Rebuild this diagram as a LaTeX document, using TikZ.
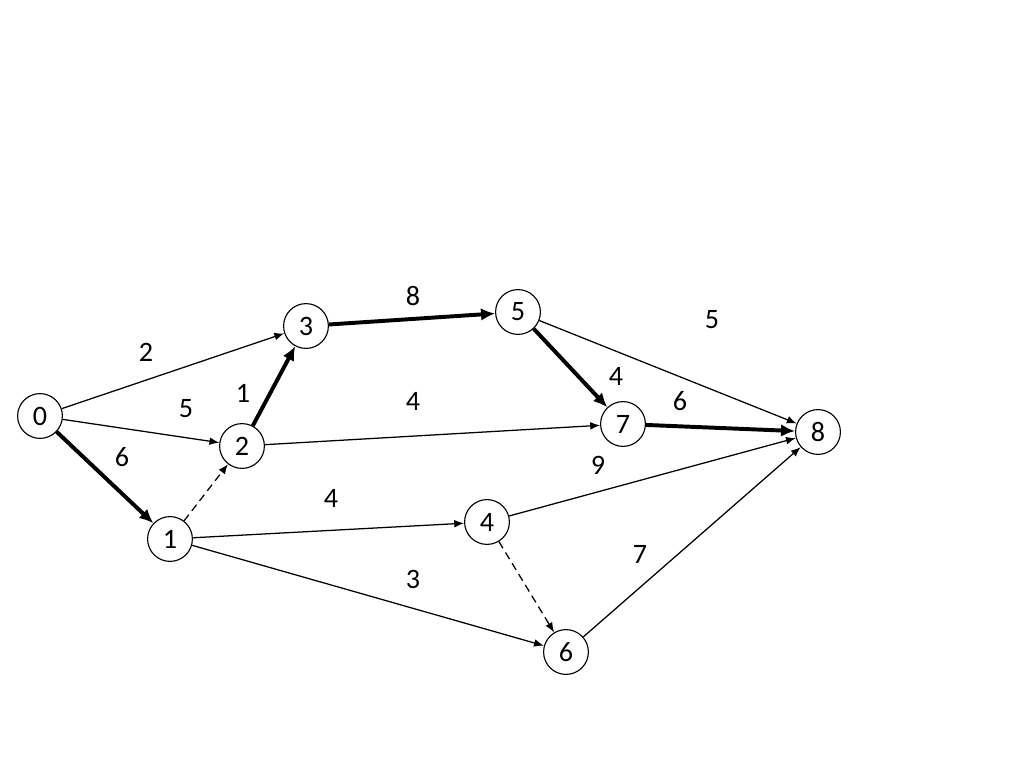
\documentclass[tikz,border=0pt]{standalone}
\usepackage{fontspec}
\setmainfont{Carlito}
\usetikzlibrary{arrows.meta,positioning}
\tikzset{
  event/.style={circle,draw,line width=0.8pt,minimum size=1.12cm,inner sep=0pt,font=\fontsize{20}{24}\selectfont},
  wt/.style={font=\fontsize{20}{24}\selectfont},
  job/.style={-{Latex[length=7pt,width=5.5pt]},line width=0.9pt},
  crit/.style={-{Latex[length=10pt,width=9pt]},line width=2.8pt},
  dummy/.style={-{Latex[length=7pt,width=5.5pt]},line width=0.9pt,dash pattern=on 5.5pt off 3.5pt}
}

\begin{document}
\begin{tikzpicture}[x=0.025cm,y=-0.025cm]
      \useasboundingbox (0,0) rectangle (1024,767);
      % events
      \node[event] (e0) at (40,416) {0};
      \node[event] (e1) at (170,539) {1};
      \node[event] (e2) at (242,446) {2};
      \node[event] (e3) at (306,326) {3};
      \node[event] (e4) at (487,522) {4};
      \node[event] (e5) at (518,312) {5};
      \node[event] (e6) at (566,652) {6};
      \node[event] (e7) at (623,424) {7};
      \node[event] (e8) at (818,432) {8};
      % jobs
      \draw[job] (e0) -- (e3);
      \draw[job] (e0) -- (e2);
      \draw[crit] (e0) -- (e1);
      \draw[dummy] (e1) -- (e2);
      \draw[crit] (e2) -- (e3);
      \draw[crit] (e3) -- (e5);
      \draw[job] (e5) -- (e8);
      \draw[crit] (e5) -- (e7);
      \draw[job] (e2) -- (e7);
      \draw[crit] (e7) -- (e8);
      \draw[job] (e4) -- (e8);
      \draw[job] (e1) -- (e4);
      \draw[job] (e1) -- (e6);
      \draw[dummy] (e4) -- (e6);
      \draw[job] (e6) -- (e8);
      % weights
      \node[wt] (w03) at (146,352) {2};
      \node[wt] (w02) at (186,409) {5};
      \node[wt] (w01) at (122,457) {6};
      \node[wt] (w23) at (243,393) {1};
      \node[wt] (w35) at (413,296) {8};
      \node[wt] (w58) at (712,320) {5};
      \node[wt] (w57) at (616,376) {4};
      \node[wt] (w27) at (413,401) {4};
      \node[wt] (w78) at (680,401) {6};
      \node[wt] (w48) at (598,465) {9};
      \node[wt] (w14) at (331,498) {4};
      \node[wt] (w16) at (413,579) {3};
      \node[wt] (w68) at (640,554) {7};
    \end{tikzpicture}
\end{document}
